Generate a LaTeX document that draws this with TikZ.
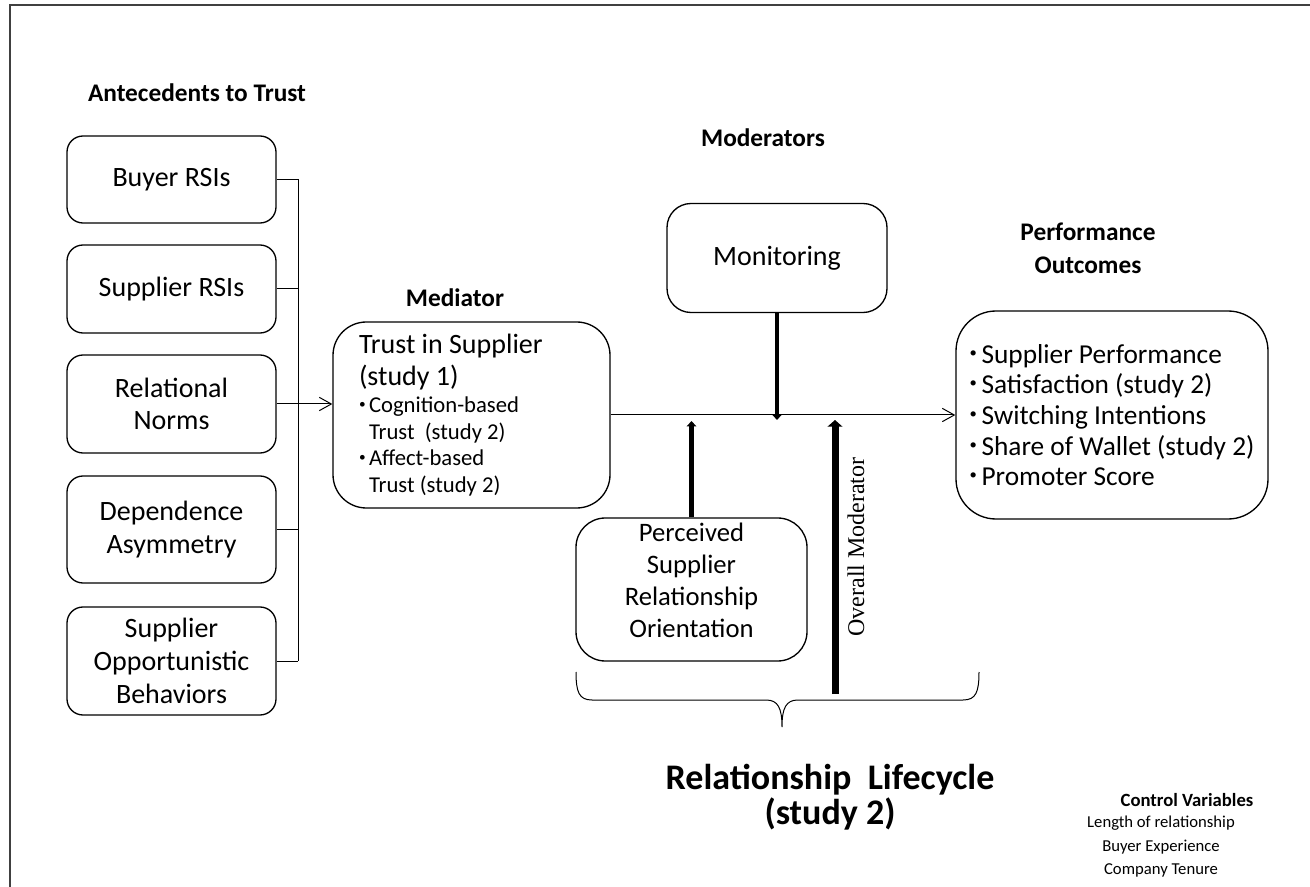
\documentclass[tikz,border=0pt]{standalone}
\usepackage{fontspec}
\setmainfont{Carlito}
\newfontfamily\timesfont{Liberation Serif}
\usetikzlibrary{arrows.meta}

\tikzset{every picture/.style={line width=0.75pt}}
\tikzset{
  antbox/.style={draw, rounded corners=12pt, line width=1pt, minimum width=156.75pt, align=center, inner sep=0pt, font=\fontsize{21}{24.5}\selectfont},
  roundbox/.style={draw, line width=1pt, inner sep=0pt},
  head/.style={font=\bfseries\fontsize{19}{24.5}\selectfont, align=center, inner sep=0.75pt},
  link/.style={-{Straight Barb[length=9pt,width=10pt]}},
  modline/.style={line width=3pt, -{Triangle[width=7pt,length=4pt]}}
}

\begin{document}
\begin{tikzpicture}[x=0.75pt,y=0.75pt,yscale=-1,xscale=1]
\useasboundingbox (0,0) rectangle (1310,887);

% Frame
\draw [color={rgb,255:red,64;green,64;blue,64}, line width=1.5pt] (10,887) -- (10,5) -- (1310,5);

% Text Node
\node (anthead) at (197,93) [head] {Antecedents to Trust};
% Text Node
\node (medhead) at (455,298) [head] {Mediator};
% Text Node
\node (modhead) at (763,138) [head] {Moderators};
% Text Node
\node (perfhead) at (1088,248) [head] {Performance\\Outcomes};

% Rounded Rect
\node (buyer) at (171.5,179.5) [antbox, minimum height=65.25pt] {Buyer RSIs};
% Rounded Rect
\node (suprsi) at (171.5,289) [antbox, minimum height=66pt] {Supplier RSIs};
% Rounded Rect
\node (norms) at (171.5,404) [antbox, minimum height=73.5pt] {Relational\\Norms};
% Rounded Rect
\node (depend) at (171.5,529.5) [antbox, minimum height=80.25pt] {Dependence\\Asymmetry};
% Rounded Rect
\node (oppor) at (171.5,661) [antbox, minimum height=81pt] {Supplier\\Opportunistic\\Behaviors};

% Rounded Rect
\node (trust) at (471.5,415) [roundbox, rounded corners=25pt, minimum width=207.75pt, minimum height=139.5pt, align=left, font=\fontsize{21}{24}\selectfont] {\makebox[168.75pt][l]{Trust in Supplier}\\
(study 1)\\[-3.5pt]
{\fontsize{17}{20}\selectfont\makebox[7.5pt][l]{\raisebox{0.2em}{\fontsize{10}{10}\selectfont\textbullet}}Cognition-based}\\[-4pt]
{\fontsize{17}{20}\selectfont\hspace*{7.5pt}Trust\ \ (study 2)}\\[-4pt]
{\fontsize{17}{20}\selectfont\makebox[7.5pt][l]{\raisebox{0.2em}{\fontsize{10}{10}\selectfont\textbullet}}Affect-based}\\[-4pt]
{\fontsize{17}{20}\selectfont\hspace*{7.5pt}Trust (study 2)}};

% Rounded Rect
\node (monitor) at (777,258) [roundbox, rounded corners=18pt, minimum width=165pt, minimum height=81.75pt, font=\fontsize{21}{24}\selectfont] {Monitoring};
% Rounded Rect
\node (percv) at (691.5,589.5) [roundbox, rounded corners=22pt, minimum width=173.25pt, minimum height=107.25pt, align=center, font=\fontsize{20}{24}\selectfont] {Perceived\\Supplier\\Relationship\\Orientation\\[-10pt]\mbox{}};
% Rounded Rect
\node (outcome) at (1112,415) [roundbox, rounded corners=30pt, minimum width=234pt, minimum height=156pt, align=left, font=\fontsize{20.5}{23}\selectfont] {\makebox[9pt][l]{\raisebox{0.22em}{\fontsize{11}{11}\selectfont\textbullet}}Supplier Performance\\
\makebox[9pt][l]{\raisebox{0.22em}{\fontsize{11}{11}\selectfont\textbullet}}Satisfaction (study 2)\\
\makebox[9pt][l]{\raisebox{0.22em}{\fontsize{11}{11}\selectfont\textbullet}}Switching Intentions\\
\makebox[9pt][l]{\raisebox{0.22em}{\fontsize{11}{11}\selectfont\textbullet}}Share of Wallet (study 2)\\
\makebox[9pt][l]{\raisebox{0.22em}{\fontsize{11}{11}\selectfont\textbullet}}Promoter Score};

% Straight Lines
\coordinate (bartop) at (298,179.5);
\coordinate (barbot) at (298,661);
\draw (bartop) -- (barbot);
\foreach \b in {buyer,suprsi,depend,oppor}
  \draw (\b.east) -- (\b.east -| bartop);
\draw [link] (norms.east) -- (norms.east -| trust.west);
\draw [link] (trust.east) -- (outcome.west);

% Moderator arrows
\draw [modline, shorten >=-3.75pt] (monitor.south) -- (monitor.south |- trust.east);
\draw [modline, line width=3.5pt, -{Triangle[width=7pt,length=4pt]}, shorten >=4.5pt] (percv.north) -- (percv.north |- trust.east);
\coordinate (omfoot) at (835,694);
\draw [line width=5.25pt, -{Triangle[width=11pt,length=5pt]}, shorten >=3.75pt] (omfoot) -- (omfoot |- trust.east);
\node (omlabel) at (856,547) [rotate=90, font=\timesfont\fontsize{18}{20}\selectfont, inner sep=0pt] {Overall Moderator};

% Brace
\draw (576,672) .. controls (576,692) and (579,700) .. (592,700) -- (766,700) .. controls (778,700) and (782,708) .. (782,727) .. controls (782,708) and (786,700) .. (798,700) -- (963,700) .. controls (976,700) and (979,692) .. (979,672);

% Text Node
\node (lifehead) at (830,797) [head, font=\bfseries\fontsize{27}{26}\selectfont] {Relationship\ \ Lifecycle\\(study 2)};
% Text Node
\node (ctrlhead) at (1187,800) [head, font=\bfseries\fontsize{14}{17}\selectfont] {Control Variables};
% Text Node
\node (ctrlvars) at (1161,847) [align=center, font=\fontsize{12.5}{17.6}\selectfont] {Length of relationship\\Buyer Experience\\Company Tenure};

\end{tikzpicture}
\end{document}
